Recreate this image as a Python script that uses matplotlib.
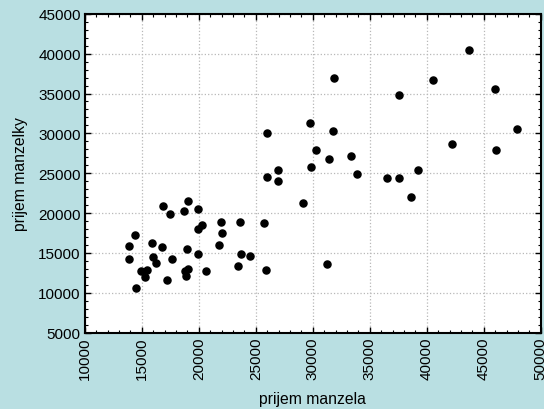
import matplotlib
matplotlib.use("Agg")
import matplotlib.pyplot as plt
from matplotlib.ticker import MultipleLocator

# husband income (x) vs wife income (y)
prijem_manzela = [
    25990, 26990, 26930, 29800, 29180, 16870, 19060, 17480, 18660, 19970,
    14390, 13890, 13830, 15850, 16780, 15940, 16260, 17660, 14910, 15470,
    15290, 14450, 17250, 20320, 19970, 21930, 22020, 21780, 23600, 25760,
    18980, 19910, 23660, 24450, 23420, 25900, 18830, 19060, 18890, 20610,
    25990, 29740, 30290, 31900, 31750, 31430, 33310, 33890, 36520, 37600,
    37520, 39240, 40560, 42220, 43710, 45960, 46110, 47920, 38630, 31230,
]
prijem_manzelky = [
    24570, 25450, 24000, 25830, 21240, 20900, 21530, 19900, 20240, 20530,
    17300, 15850, 14300, 16300, 15770, 14550, 13760, 14300, 12750, 12880,
    11970, 10660, 11660, 18560, 17980, 18900, 17560, 16000, 18900, 18770,
    15510, 14850, 14850, 14640, 13330, 12920, 12750, 13000, 12090, 12750,
    30090, 31340, 27920, 36940, 30260, 26800, 27130, 24910, 24410, 24370,
    34810, 25450, 36690, 28710, 40490, 35560, 27920, 30590, 21990, 13630,
]

plt.rcParams['font.family'] = ['Liberation Sans', 'DejaVu Sans']
bg = '#b9dfe2'

fig = plt.figure(figsize=(5.44, 4.10), dpi=100, facecolor=bg)
ax = fig.add_axes([0.156, 0.186, 0.838, 0.778])
ax.set_facecolor('white')

ax.scatter(prijem_manzela, prijem_manzelky, s=26, c='black', zorder=3)

ax.set_xlim(10000, 50000)
ax.set_ylim(5000, 45000)
ax.xaxis.set_major_locator(MultipleLocator(5000))
ax.yaxis.set_major_locator(MultipleLocator(5000))
ax.xaxis.set_minor_locator(MultipleLocator(1000))
ax.yaxis.set_minor_locator(MultipleLocator(1000))

ax.grid(True, which='major', color='#b8b8b8', linestyle=':', linewidth=0.9)
ax.set_axisbelow(True)

ax.tick_params(which='both', direction='in', top=True, right=True,
               labelsize=11, colors='black', pad=3)
ax.tick_params(which='major', length=4, width=1)
ax.tick_params(which='minor', length=2.5, width=0.8)
for lbl in ax.get_xticklabels():
    lbl.set_rotation(90)

for sp in ax.spines.values():
    sp.set_linewidth(1.5)

ax.set_xlabel('prijem manzela', fontsize=11.3, labelpad=8)
ax.set_ylabel('prijem manzelky', fontsize=11.3, labelpad=7)

fig.savefig('out.png', dpi=100, facecolor=bg)
